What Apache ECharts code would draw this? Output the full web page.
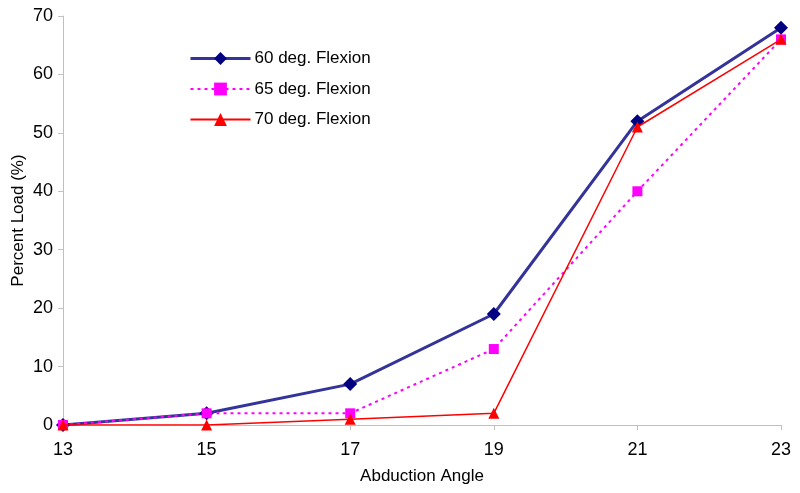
<!DOCTYPE html>
<html><head><meta charset="utf-8">
<script src="https://cdn.jsdelivr.net/npm/echarts@6/dist/echarts.min.js"></script>
<style>html,body{margin:0;padding:0;background:#fff}#c{width:800px;height:493px}</style>
</head><body><div id="c"></div>
<script>
const angles = [13, 15, 17, 19, 21, 23];
const flex60 = [0, 2, 7, 19, 52, 68];
const flex65 = [0, 2, 2, 13, 40, 66];
const flex70 = [0, 0, 1, 2, 51, 66];
const seriesNames = ['60 deg. Flexion', '65 deg. Flexion', '70 deg. Flexion'];

const pair = arr => angles.map((a, i) => [a, arr[i]]);
const font = 'Liberation Sans, Arial, sans-serif';
const chart = echarts.init(document.getElementById('c'));
chart.setOption({
  animation: false,
  backgroundColor: '#fff',
  grid: { left: 63, right: 19, top: 16, bottom: 68, outerBoundsMode: 'none', containLabel: false },
  legend: {
    orient: 'vertical', left: 184, top: 45, itemWidth: 60, itemHeight: 16, itemGap: 13.5,
    textStyle: { fontFamily: font, fontSize: 17, color: '#000', padding: [0, 0, 0, -1] },
    data: [
      { name: seriesNames[0], lineStyle: { width: 3 } },
      { name: seriesNames[1] },
      { name: seriesNames[2] }
    ]
  },
  xAxis: {
    type: 'value', min: 13, max: 23, interval: 2,
    name: 'Abduction Angle', nameLocation: 'middle', nameGap: 43,
    nameTextStyle: { fontFamily: font, fontSize: 17, color: '#000' },
    axisLine: { lineStyle: { color: '#c0c0c0' } },
    axisTick: { show: true, length: 5, lineStyle: { color: '#c0c0c0' } },
    axisLabel: { fontFamily: font, fontSize: 18, color: '#000', margin: 16 },
    splitLine: { show: false }
  },
  yAxis: {
    type: 'value', min: 0, max: 70, interval: 10,
    name: 'Percent Load (%)', nameLocation: 'middle', nameGap: 36, nameMoveOverlap: false,
    nameTextStyle: { fontFamily: font, fontSize: 17, color: '#000' },
    axisLine: { show: true, lineStyle: { color: '#c0c0c0' } },
    axisTick: { show: true, length: 5, lineStyle: { color: '#c0c0c0' } },
    axisLabel: { fontFamily: font, fontSize: 18, color: '#000', margin: 10 },
    splitLine: { show: false }
  },
  series: [
    { name: seriesNames[0], type: 'line', data: pair(flex60), symbol: 'diamond', symbolSize: 14,
      lineStyle: { color: '#333399', width: 3 }, itemStyle: { color: '#000080' }, z: 3 },
    { name: seriesNames[1], type: 'line', data: pair(flex65), symbol: 'rect', symbolSize: 10,
      lineStyle: { color: '#ff00ff', width: 2, type: [3, 4] }, itemStyle: { color: '#ff00ff' }, z: 4 },
    { name: seriesNames[2], type: 'line', data: pair(flex70), symbol: 'triangle', symbolSize: 11,
      lineStyle: { color: '#ff0000', width: 1.5 }, itemStyle: { color: '#ff0000' }, z: 5 }
  ]
});
</script></body></html>
